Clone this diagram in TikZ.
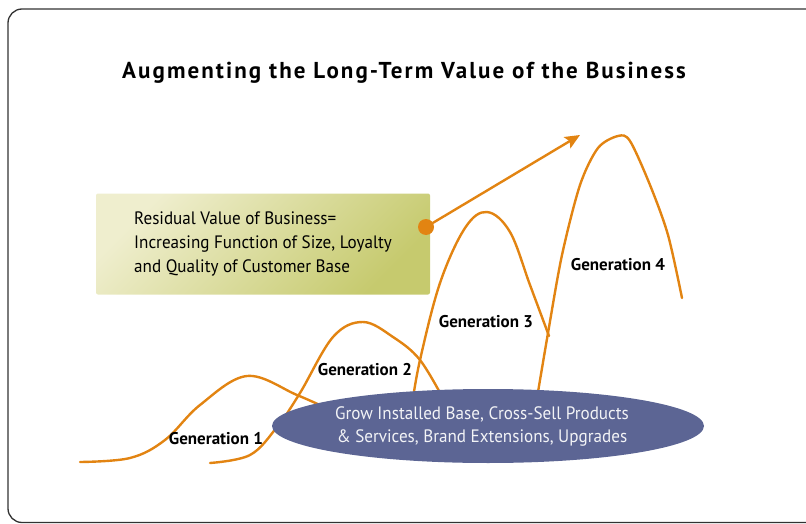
\documentclass[tikz,border=0pt]{standalone}
\usepackage{fontspec}
\setmainfont{PT Sans}
\newfontfamily\bodyfont[FakeStretch=0.95]{PT Sans}
\newfontfamily\titlefont[LetterSpace=9]{PT Sans}
\usetikzlibrary{arrows.meta,shapes.geometric}
\definecolor{genorange}{RGB}{226,132,18}
\definecolor{baseblue}{RGB}{92,101,148}
\definecolor{boxlight}{RGB}{239,238,206}
\definecolor{boxdark}{RGB}{198,202,110}
\definecolor{framegray}{RGB}{50,50,50}

\begin{document}
\begin{tikzpicture}[x=1pt,y=-1pt,
    frame/.style={framegray,line width=1.3pt,rounded corners=14pt},
    gen/.style={genorange,line width=2.4pt,line cap=round},
    genlabel/.style={font=\bfseries\fontsize{17}{19}\selectfont},
    valuebox/.style={shade,top color=boxlight,bottom color=boxdark,shading angle=45,
      rounded corners=2pt,inner xsep=34pt,minimum width=334pt,minimum height=101pt,
      align=left,font=\bodyfont\fontsize{18}{24}\selectfont},
    basenode/.style={ellipse,fill=baseblue,minimum width=432pt,minimum height=74pt},
    basetext/.style={text=white!92!baseblue,align=center,font=\bodyfont\fontsize{18}{23}\selectfont},
    dot/.style={circle,fill=genorange,minimum size=16pt,inner sep=0pt}]
  \useasboundingbox (0,0) rectangle (806,524);
  \draw[frame] (808,9) -- (8,9) -- (8,522.5) -- (808,522.5);

  \node[font=\titlefont\bfseries\fontsize{23}{26}\selectfont] (title) at (404,73)
    {Augmenting the Long-Term Value of the Business};

  \draw[gen] plot[smooth,tension=0.6] coordinates
    {(80,462) (130,458) (165,440) (200,405) (247,376) (297,395) (335,412)};
  \draw[gen] plot[smooth,tension=0.6] coordinates
    {(210,463) (250,455) (277,427) (300,393) (333,337) (363,322) (393,337) (420,360) (445,402)};
  \draw[gen] plot[smooth,tension=0.6] coordinates
    {(412,405) (420,360) (440,283) (465,228) (487,212) (510,232) (530,285) (549,336)};
  \draw[gen] plot[smooth,tension=0.5] coordinates
    {(535,410) (548,333) (562,255) (580,185) (598,148) (618,136) (630,141) (650,185) (668,235) (682,298)};

  \node[genlabel] (g1) at (216,439) {Generation 1};
  \node[genlabel] (g2) at (365,370) {Generation 2};
  \node[genlabel] (g3) at (486,322) {Generation 3};
  \node[genlabel] (g4) at (618,265) {Generation 4};

  \node[basenode] (base) at (488,426) {};
  \node[basetext] (basetxt) at (482,426)
    {Grow Installed Base, Cross-Sell Products\\ \& Services, Brand Extensions, Upgrades};

  \node[valuebox] (residual) at (263,244)
    {Residual Value of Business=\\ Increasing Function of Size, Loyalty\\ and Quality of Customer Base};

  \node[dot] (start) at (426,227) {};
  \coordinate (tip) at (580,135);
  \draw[gen,-{Stealth[length=15pt,width=13pt,inset=3pt]}] (start) -- (tip);
\end{tikzpicture}
\end{document}
